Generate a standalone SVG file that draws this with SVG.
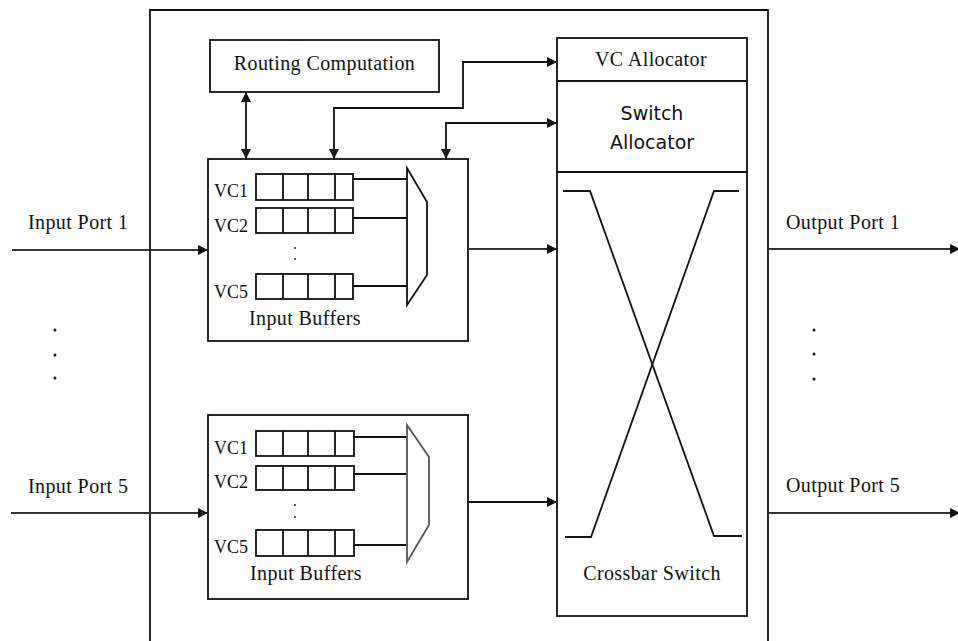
<svg xmlns="http://www.w3.org/2000/svg" width="958" height="641" viewBox="0 0 958 641">
<style>
.box{fill:none;stroke:#111;stroke-width:1.8}
.ln{fill:none;stroke:#111;stroke-width:1.8}
.port{fill:none;stroke:#333;stroke-width:2.2}
.serif{font-family:"Liberation Serif","Times New Roman",serif;font-size:20px;fill:#111;letter-spacing:0.4px}
.vc{font-family:"Liberation Serif","Times New Roman",serif;font-size:18px;fill:#111}
.sans{font-family:"DejaVu Sans",Verdana,sans-serif;font-size:19px;fill:#111}
.dot{fill:#111}
</style>
<defs>
<marker id="ah" viewBox="0 0 10 10" refX="10" refY="5" markerWidth="12" markerHeight="10" markerUnits="userSpaceOnUse" orient="auto-start-reverse">
<path d="M0,0 L10,5 L0,10 Z" fill="#111"/>
</marker>
</defs>
<rect width="958" height="641" fill="#fff"/>

<g id="router">
<path class="box" d="M150,645 V10 H768 V645"/>
</g>

<g id="routing-computation">
<rect class="box" x="210" y="40" width="229" height="52"/>
<text class="serif" x="324.5" y="70" text-anchor="middle">Routing Computation</text>
</g>

<g id="input-buffers-1">
<rect class="box" x="208" y="159" width="260" height="182"/>
<g class="ln">
<rect x="256" y="174" width="97" height="26"/>
<path d="M283,174 V200 M308,174 V200 M335,174 V200"/>
<rect x="256" y="208" width="97" height="25"/>
<path d="M283,208 V233 M308,208 V233 M335,208 V233"/>
<rect x="256" y="274" width="97" height="25"/>
<path d="M283,274 V299 M308,274 V299 M335,274 V299"/>
<path d="M353,179 H407 M353,218 H407 M353,286 H407"/>
<polygon points="407,168 427,202 427,275 407,305"/>
</g>
<text class="vc" x="214" y="197">VC1</text>
<text class="vc" x="214" y="232">VC2</text>
<text class="vc" x="214" y="298">VC5</text>
<circle class="dot" cx="295" cy="248" r="0.9"/>
<circle class="dot" cx="295" cy="259" r="0.9"/>
<text class="serif" x="305" y="325" text-anchor="middle">Input Buffers</text>
</g>

<g id="input-buffers-5">
<rect class="box" x="208" y="415" width="260" height="184"/>
<g class="ln">
<rect x="256" y="431" width="98" height="25"/>
<path d="M283,431 V456 M308,431 V456 M335,431 V456"/>
<rect x="256" y="466" width="98" height="24"/>
<path d="M283,466 V490 M308,466 V490 M335,466 V490"/>
<rect x="256" y="530" width="98" height="26"/>
<path d="M283,530 V556 M308,530 V556 M335,530 V556"/>
<path d="M354,437 H407 M354,474 H407 M354,545 H407"/>
<polygon points="407,425 429,457 429,525 407,562" stroke="#555"/>
</g>
<text class="vc" x="214" y="454">VC1</text>
<text class="vc" x="214" y="488">VC2</text>
<text class="vc" x="214" y="553">VC5</text>
<circle class="dot" cx="295" cy="505" r="0.9"/>
<circle class="dot" cx="295" cy="517" r="0.9"/>
<text class="serif" x="306" y="580" text-anchor="middle">Input Buffers</text>
</g>

<g id="vc-allocator">
<rect class="box" x="557" y="38" width="190" height="43"/>
<text class="serif" x="651" y="66" text-anchor="middle">VC Allocator</text>
</g>

<g id="switch-allocator">
<rect class="box" x="557" y="81" width="190" height="91"/>
<text class="sans" x="652" y="120" text-anchor="middle">Switch</text>
<text class="sans" x="652" y="149" text-anchor="middle">Allocator</text>
</g>

<g id="crossbar-switch">
<rect class="box" x="557" y="172" width="190" height="444"/>
<path class="ln" d="M563,191 H590 L714,536 H742"/>
<path class="ln" d="M739,191 H714 L591,537 H565"/>
<text class="serif" x="652" y="580" text-anchor="middle">Crossbar Switch</text>
</g>

<g id="port-labels">
<text class="serif" x="28" y="229">Input Port 1</text>
<text class="serif" x="28" y="493">Input Port 5</text>
<text class="serif" x="786" y="229">Output Port 1</text>
<text class="serif" x="786" y="492">Output Port 5</text>
<circle class="dot" cx="55" cy="330" r="1.5"/>
<circle class="dot" cx="55" cy="355" r="1.5"/>
<circle class="dot" cx="55" cy="378" r="1.5"/>
<circle class="dot" cx="814" cy="330" r="1.5"/>
<circle class="dot" cx="814" cy="354" r="1.5"/>
<circle class="dot" cx="814" cy="379" r="1.5"/>
</g>

<g id="connectors">
<path class="port" d="M12,250 H208" marker-end="url(#ah)"/>
<path class="port" d="M11,513 H208" marker-end="url(#ah)"/>
<path class="port" d="M768,249 H960" marker-end="url(#ah)"/>
<path class="port" d="M768,513 H960" marker-end="url(#ah)"/>
<path class="port" d="M468,249 H557" marker-end="url(#ah)"/>
<path class="ln" d="M468,502 H557" marker-end="url(#ah)"/>
<path class="ln" d="M246,92 V159" marker-start="url(#ah)" marker-end="url(#ah)"/>
<path class="ln" d="M334,159 V108 H463 V62 H557" marker-start="url(#ah)" marker-end="url(#ah)"/>
<path class="ln" d="M446,159 V123 H557" marker-start="url(#ah)" marker-end="url(#ah)"/>
</g>
</svg>
